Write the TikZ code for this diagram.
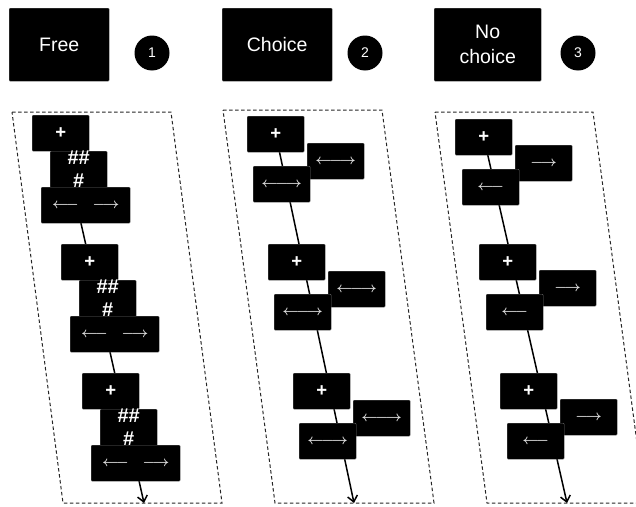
\documentclass[tikz,border=0pt]{standalone}
\usepackage{fontspec}
\setmainfont{Liberation Sans}
\usetikzlibrary{backgrounds}
\usetikzlibrary{arrows.meta}

\begin{document}
\begin{tikzpicture}[x=1pt,y=-1pt]
\tikzstyle{title}=[fill=black,draw=black!60,line width=0.4pt,rounded corners=1pt,anchor=north west,minimum height=73pt,inner sep=0pt,align=center,text=white,font=\fontsize{19.5}{25}\selectfont]
\tikzstyle{num}=[circle,fill=black,minimum size=35pt,inner sep=0pt,text=white,font=\fontsize{14}{16}\selectfont]
\tikzstyle{screen}=[fill=black,draw=black!60,line width=0.4pt,rounded corners=1pt,anchor=north west,minimum width=57pt,minimum height=36pt,inner sep=0pt,align=center,text=white,font=\fontsize{18.5}{24}\selectfont\bfseries]
\tikzstyle{mask}=[screen,font=\fontsize{20}{23}\selectfont\bfseries]
\tikzstyle{cue}=[screen,text=black!12,font=\fontsize{14.5}{16}\selectfont\boldmath]
\tikzstyle{frame}=[draw=black!85,line width=1pt,dash pattern=on 3.5pt off 2.5pt]
\tikzstyle{time}=[line width=1.5pt,-{Straight Barb[length=6pt,width=10pt]}]

\useasboundingbox (0,0) rectangle (636,506);

% condition labels
\node[title,minimum width=100pt] (free) at (9,8) {Free};
\node[title,minimum width=110pt] (choice) at (222,8) {Choice};
\node[title,minimum width=107pt] (nochoice) at (434,8) {No\\choice};
\node[num] (n1) at (152,53) {1};
\node[num] (n2) at (365,53) {2};
\node[num] (n3) at (578,53) {3};

% free: fixation, masks, both arrows
\foreach \x/\y/\i in {32/115/1,61/244/2,82/373/3} {
  \node[screen] (F\i) at (\x,\y) {+};
  \node[mask] (F\i-m) at (\x+18,\y+36) {\#\#\\\#};
  \node[cue,minimum width=89pt] (F\i-a) at (\x+9,\y+72) {$\longleftarrow$\hspace{14pt}$\longrightarrow$};
}

% choice
\foreach \x/\y/\i in {247/116/1,268/244/2,293/373/3} {
  \node[screen] (C\i) at (\x,\y) {+};
  \node[cue] (C\i-r) at (\x+60,\y+27) {$\leftarrow\joinrel\relbar\joinrel\rightarrow$};
  \node[cue] (C\i-l) at (\x+6,\y+50) {$\leftarrow\joinrel\relbar\joinrel\rightarrow$};
}

% no choice
\foreach \x/\y/\i in {455/119/1,479/244/2,500/373/3} {
  \node[screen] (N\i) at (\x,\y) {+};
  \node[cue] (N\i-r) at (\x+60,\y+26) {$\longrightarrow$};
  \node[cue] (N\i-l) at (\x+7,\y+50) {$\longleftarrow$};
}

\coordinate (Fend) at (144,503);
\coordinate (Cend) at (354,503);
\coordinate (Nend) at (567,503);

\begin{scope}[on background layer]
\draw[frame] (12,112) -- (171,112) -- (222,503) -- (63,503) -- cycle;
\draw[frame] (223,110) -- (382,110) -- (434,503) -- (275,503) -- cycle;
\draw[frame] (435,112) -- (593,112) -- (645,503) -- (487,503) -- cycle;
\draw[time] (F1.center) -- (Fend);
\draw[time] (C1.center) -- (Cend);
\draw[time] (N1.center) -- (Nend);
\end{scope}
\end{tikzpicture}
\end{document}
